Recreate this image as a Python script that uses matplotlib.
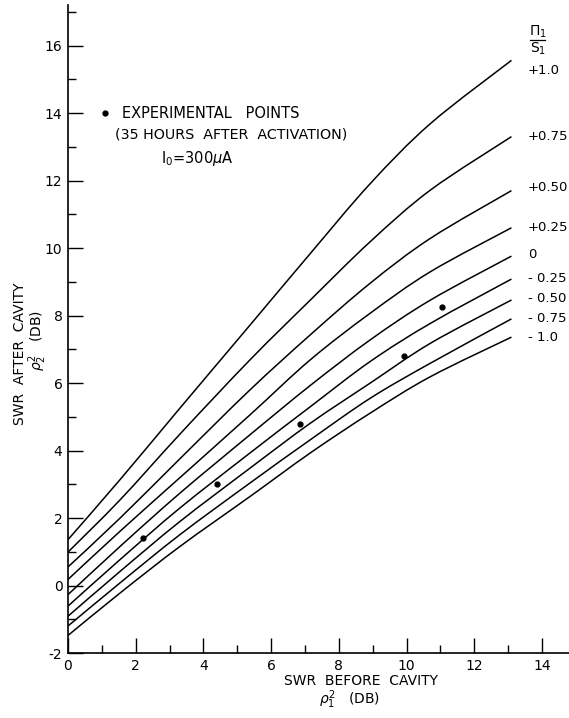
import matplotlib.pyplot as plt
from matplotlib.ticker import MultipleLocator
from matplotlib.path import Path
from matplotlib.patches import PathPatch

plt.rcParams['font.family'] = ['DejaVu Sans']
plt.rcParams['axes.unicode_minus'] = False

# SWR before cavity (DB) where the curves were read
rho1 = [0, 1.54, 3.31, 5.38, 7.16, 8.93, 10.71, 13.1]

# SWR after cavity (DB) for each PI1/S1 value
swr_p100 = [1.36, 3.14, 5.26, 7.72, 9.84, 11.91, 13.69, 15.56]
swr_p075 = [0.99, 2.54, 4.49, 6.69, 8.46, 10.19, 11.72, 13.30]
swr_p050 = [0.55, 2.00, 3.76, 5.80, 7.43, 8.96, 10.29, 11.70]
swr_p025 = [0.18, 1.61, 3.20, 5.06, 6.69, 8.07, 9.30, 10.60]
swr_000 = [-0.27, 1.16, 2.74, 4.47, 5.93, 7.28, 8.46, 9.76]
swr_m025 = [-0.61, 0.77, 2.30, 3.93, 5.30, 6.64, 7.77, 9.08]
swr_m050 = [-0.91, 0.42, 1.90, 3.48, 4.81, 6.00, 7.18, 8.46]
swr_m075 = [-1.20, 0.08, 1.51, 3.04, 4.32, 5.55, 6.59, 7.90]
swr_m100 = [-1.48, -0.22, 1.16, 2.64, 3.93, 5.11, 6.19, 7.36]

curve_labels = ['+1.0', '+0.75', '+0.50', '+0.25', '0',
                '- 0.25', '- 0.50', '- 0.75', '- 1.0']
label_y = [15.27, 13.29, 11.78, 10.62, 9.82, 9.11, 8.49, 7.90, 7.36]

# experimental points
exp_x = [2.22, 4.39, 6.85, 9.93, 11.04]
exp_y = [1.41, 3.00, 4.78, 6.79, 8.25]

curves = [swr_p100, swr_p075, swr_p050, swr_p025, swr_000,
          swr_m025, swr_m050, swr_m075, swr_m100]


def smooth_path(xs, ys):
    # Catmull-Rom style bezier through the read points
    pts = list(zip(xs, ys))
    verts = [pts[0]]
    codes = [Path.MOVETO]
    n = len(pts)
    for i in range(n - 1):
        p0 = pts[max(i - 1, 0)]
        p1 = pts[i]
        p2 = pts[i + 1]
        p3 = pts[min(i + 2, n - 1)]
        c1 = (p1[0] + (p2[0] - p0[0]) / 6, p1[1] + (p2[1] - p0[1]) / 6)
        c2 = (p2[0] - (p3[0] - p1[0]) / 6, p2[1] - (p3[1] - p1[1]) / 6)
        verts += [c1, c2, p2]
        codes += [Path.CURVE4] * 3
    return Path(verts, codes)


fig = plt.figure(figsize=(5.69, 7.18), dpi=100)
ax = fig.add_axes([0.1195, 0.0905, 0.8805, 0.9025])

for ys in curves:
    ax.add_patch(PathPatch(smooth_path(rho1, ys), fill=False,
                           edgecolor='black', lw=1.1))
ax.plot(exp_x, exp_y, 'o', color='black', ms=3.5)

ax.set_xlim(0, 14.8)
ax.set_ylim(-2, 17.2)
ax.spines['top'].set_visible(False)
ax.spines['right'].set_visible(False)
for s in ['left', 'bottom']:
    ax.spines[s].set_linewidth(1.2)

ax.xaxis.set_major_locator(MultipleLocator(2))
ax.xaxis.set_minor_locator(MultipleLocator(1))
ax.yaxis.set_major_locator(MultipleLocator(2))
ax.yaxis.set_minor_locator(MultipleLocator(1))
ax.tick_params(which='major', direction='in', length=11, width=1.0,
               labelsize=10, pad=4)
ax.tick_params(which='minor', direction='in', length=5.5, width=1.0)

# axis titles
fig.text(0.634, 0.0515, 'SWR  BEFORE  CAVITY', fontsize=10,
         ha='center', va='center')
fig.text(0.615, 0.025, '$\\rho_1^2$   (DB)', fontsize=10,
         ha='center', va='center')
fig.text(0.035, 0.507, 'SWR  AFTER  CAVITY', fontsize=10, rotation=90,
         ha='center', va='center')
fig.text(0.067, 0.526, '$\\rho_2^2$   (DB)', fontsize=10, rotation=90,
         ha='center', va='center')

# legend-like annotation
ax.plot([1.09], [14.0], 'o', color='black', ms=3.5, clip_on=False)
ax.text(1.6, 14.0, 'EXPERIMENTAL   POINTS', fontsize=10.5, va='center')
ax.text(1.4, 13.35, '(35 HOURS  AFTER  ACTIVATION)', fontsize=10.3,
        va='center')
ax.text(2.75, 12.65, '$\\mathrm{I}_0$=300$\\mu$A', fontsize=10.5,
        va='center')

# curve labels
for lab, yy in zip(curve_labels, label_y):
    ax.text(13.58, yy, lab, fontsize=9.5, va='center', ha='left',
            clip_on=False)
ax.text(13.88, 16.42, '$\\Pi_1$', fontsize=10, ha='center', va='center')
ax.plot([13.66, 14.1], [16.15, 16.15], color='black', lw=0.9, clip_on=False)
ax.text(13.88, 15.9, '$\\mathrm{S}_1$', fontsize=10, ha='center',
        va='center')

plt.savefig('out.png', dpi=100)
